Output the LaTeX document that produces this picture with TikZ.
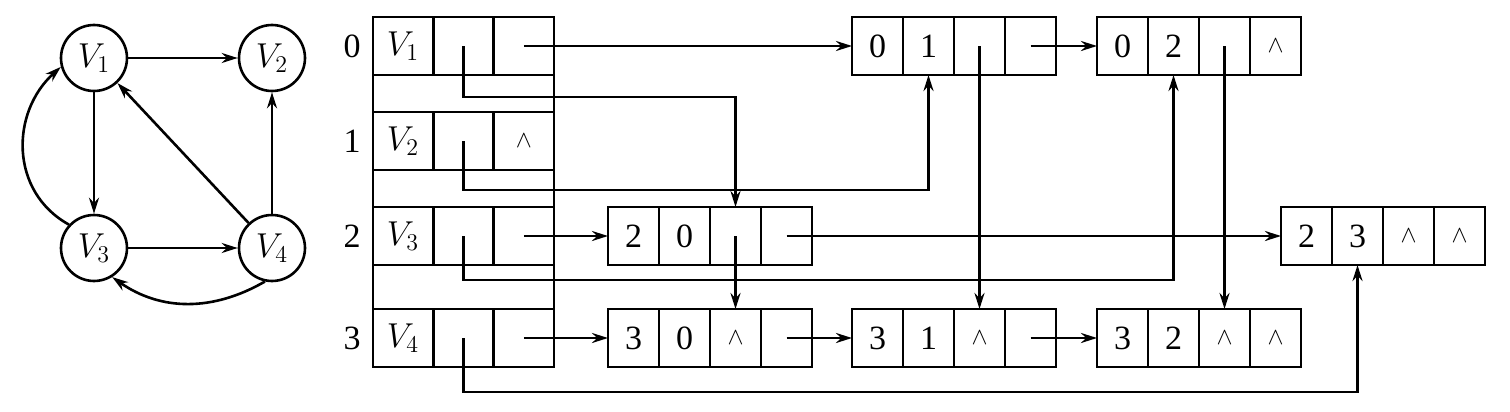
\documentclass[tikz,border=0pt]{standalone}
\usepackage{fontspec}
\setmainfont{Liberation Serif}
\usetikzlibrary{positioning,arrows.meta}
\tikzset{
  vx/.style={circle,draw,line width=1.3pt,minimum size=33pt,inner sep=0pt},
  cell/.style={rectangle,draw,line width=1.3pt,minimum width=25.5pt,minimum height=29pt,inner sep=0pt,outer sep=0pt},
  vcell/.style={cell,minimum width=30.2pt},
  link/.style={line width=1.3pt,-{Stealth[length=8pt,width=5pt]}}
}
\newcommand{\nilmark}{{\fontsize{12}{14}\selectfont$\wedge$}}
\newcommand{\arcnode}[7]{%
  \node[cell] (#1t) at (#2,#3) {#4};
  \node[cell,right=0pt of #1t] (#1h) {#5};
  \node[cell,right=0pt of #1h] (#1hl) {#6};
  \node[cell,right=0pt of #1hl] (#1tl) {#7};
}
\begin{document}
\begin{tikzpicture}[x=0.5pt,y=-0.5pt,font=\fontsize{17}{20}\selectfont]
	\useasboundingbox (0,0) rectangle (1510,412);
	% Graph
	\node[vx] (v1) at (94,58) {$V_1$};
	\node[vx] (v2) at (272,58) {$V_2$};
	\node[vx] (v3) at (94,248) {$V_3$};
	\node[vx] (v4) at (272,248) {$V_4$};
	\draw[link] (v1) -- (v2);
	\draw[link] (v1) -- (v3);
	\draw[link] (v3) -- (v4);
	\draw[link] (v4) -- (v2);
	\draw[link] (v4) -- (v1);
	\draw[link] (v3.137) to[out=151,in=222,looseness=1.1] (v1.195);
	\draw[link] (v4.258) to[out=210,in=325,looseness=1] (v3.302);
	% Vertex table
	\draw[line width=1.3pt] (373,17) rectangle (554,367);
	\foreach \i/\y/\o in {0/46/{},1/141/\nilmark,2/236/{},3/338/{}} {
		\pgfmathtruncatemacro\k{\i+1}
		\node (r\i) at (352,\y) {\i};
		\node[vcell] (d\i) at (403,\y) {$V_{\k}$};
		\node[vcell,right=0pt of d\i] (in\i) {};
		\node[vcell,right=0pt of in\i] (out\i) {\o};
	}
	% Arc nodes
	\arcnode{a01}{877.5}{46}{0}{1}{}{}
	\arcnode{a02}{1122.5}{46}{0}{2}{}{\nilmark}
	\arcnode{a20}{633.5}{236}{2}{0}{}{}
	\arcnode{a23}{1306.5}{236}{2}{3}{\nilmark}{\nilmark}
	\arcnode{a30}{633.5}{338}{3}{0}{\nilmark}{}
	\arcnode{a31}{877.5}{338}{3}{1}{\nilmark}{}
	\arcnode{a32}{1122.5}{338}{3}{2}{\nilmark}{\nilmark}
	% Links
	\draw[link] (out0.center) -- (a01t.west);
	\draw[link] (out2.center) -- (a20t.west);
	\draw[link] (out3.center) -- (a30t.west);
	\draw[link] (in0.center) -- ++(0,51) -| (a20hl.north);
	\draw[link] (in1.center) -- ++(0,49) -| (a01h.south);
	\draw[link] (in2.center) -- ++(0,44) -| (a02h.south);
	\draw[link] (in3.center) -- ++(0,54) -| (a23h.south);
	\draw[link] (a01tl.center) -- (a02t.west);
	\draw[link] (a20tl.center) -- (a23t.west);
	\draw[link] (a30tl.center) -- (a31t.west);
	\draw[link] (a31tl.center) -- (a32t.west);
	\draw[link] (a01hl.center) -- (a31hl.north);
	\draw[link] (a02hl.center) -- (a32hl.north);
	\draw[link] (a20hl.center) -- (a30hl.north);
\end{tikzpicture}
\end{document}
